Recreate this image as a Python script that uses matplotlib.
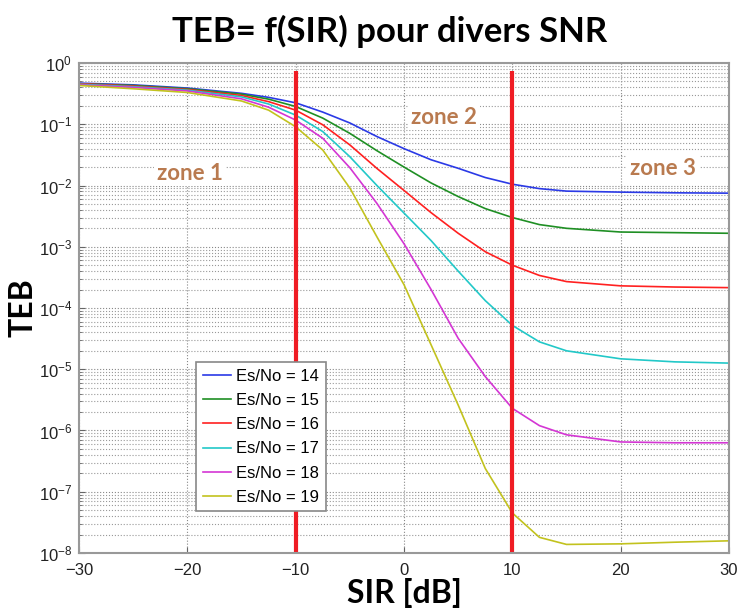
import matplotlib
matplotlib.use("Agg")
import matplotlib.pyplot as plt
from matplotlib.ticker import LogLocator, NullFormatter

plt.rcParams["font.family"] = ["Liberation Sans", "DejaVu Sans"]
plt.rcParams["mathtext.fontset"] = "custom"
plt.rcParams["mathtext.rm"] = "Liberation Sans"
plt.rcParams["mathtext.it"] = "Liberation Sans:italic"

# SIR axis (dB)
sir = [-30, -25, -20, -15, -12.5, -10, -7.5, -5, -2.5, 0, 2.5, 5, 7.5, 10,
       12.5, 15, 20, 25, 30]

# TEB per Es/No curve
teb_14 = [0.47, 0.44, 0.39, 0.32, 0.275, 0.224, 0.158, 0.105, 0.063, 0.040,
          0.0263, 0.0191, 0.0135, 0.0105, 0.0089, 0.0081, 0.0078, 0.0076, 0.0075]
teb_15 = [0.46, 0.43, 0.38, 0.31, 0.257, 0.195, 0.126, 0.071, 0.037, 0.020,
          0.011, 0.0066, 0.0042, 0.0030, 0.0023, 0.0020, 0.00174, 0.0017, 0.00166]
teb_16 = [0.46, 0.42, 0.37, 0.295, 0.234, 0.170, 0.098, 0.046, 0.019, 0.0083,
          0.0036, 0.00166, 8.3e-4, 5.0e-4, 3.4e-4, 2.7e-4, 2.3e-4, 2.2e-4, 2.15e-4]
teb_17 = [0.45, 0.41, 0.36, 0.28, 0.214, 0.141, 0.076, 0.0295, 0.0100, 0.00355,
          0.00126, 4.0e-4, 1.32e-4, 5.2e-5, 2.8e-5, 2.0e-5, 1.48e-5, 1.32e-5, 1.26e-5]
teb_18 = [0.44, 0.40, 0.35, 0.26, 0.19, 0.117, 0.059, 0.0195, 0.0051, 0.00112,
          2.0e-4, 3.2e-5, 7.6e-6, 2.3e-6, 1.2e-6, 8.5e-7, 6.5e-7, 6.3e-7, 6.3e-7]
teb_19 = [0.43, 0.38, 0.33, 0.24, 0.17, 0.091, 0.038, 0.0091, 0.00145, 2.4e-4,
          2.5e-5, 2.6e-6, 2.4e-7, 4.5e-8, 1.8e-8, 1.38e-8, 1.41e-8, 1.5e-8, 1.58e-8]

series = [teb_14, teb_15, teb_16, teb_17, teb_18, teb_19]
labels = ["Es/No = 14", "Es/No = 15", "Es/No = 16", "Es/No = 17", "Es/No = 18", "Es/No = 19"]
colors = ["#2b3ae6", "#1f8f24", "#ff2020", "#22c8c8", "#d436d4", "#c2c21e"]

x_ticks = [-30, -20, -10, 0, 10, 20, 30]
y_ticks = [1e-8, 1e-7, 1e-6, 1e-5, 1e-4, 1e-3, 1e-2, 1e-1, 1e0]

zone_bounds = [-10, 10]
zone_texts = ["zone 1", "zone 2", "zone 3"]
zone_x = [-19.8, 3.7, 23.9]
zone_y = [1.6e-2, 1.3e-1, 1.9e-2]

fig = plt.figure(figsize=(7.42, 6.13), dpi=100)
ax = fig.add_axes([0.1065, 0.0979, 0.876, 0.7993])

ax.set_yscale("log")
ax.set_xlim(-30, 30)
ax.set_ylim(1e-8, 1)

for y, lab, c in zip(series, labels, colors):
    ax.plot(sir, y, color=c, lw=1.2, label=lab)

for xb in zone_bounds:
    ax.plot([xb, xb], [1e-8, 0.74], color="#ef1c24", lw=3.0, solid_capstyle="butt")

for t, xz, yz in zip(zone_texts, zone_x, zone_y):
    ax.text(xz, yz, t, color="#b97a4f", fontsize=16, fontweight="bold",
            family=["Lato", "DejaVu Sans"], ha="center", va="center",
            bbox=dict(facecolor="white", edgecolor="none", pad=2))

ax.set_xticks(x_ticks)
ax.set_yticks(y_ticks)
ax.yaxis.set_minor_locator(LogLocator(base=10, subs=range(2, 10), numticks=12))
ax.yaxis.set_minor_formatter(NullFormatter())
ax.set_ylim(1e-8, 1)
ax.tick_params(axis="both", which="both", direction="in", labelsize=12,
               labelcolor="#222222", color="#666666")
ax.tick_params(axis="both", which="major", length=4)
ax.tick_params(axis="x", which="major", pad=7)
ax.tick_params(axis="y", which="major", pad=5)
ax.tick_params(axis="y", which="minor", length=2, labelleft=False)

ax.grid(True, which="major", axis="both", linestyle=":", color="#888888", lw=0.8)
ax.grid(True, which="minor", axis="y", linestyle=":", color="#999999", lw=0.8)

for s in ax.spines.values():
    s.set_color("#999999")
    s.set_linewidth(1.5)

leg = ax.legend(loc="lower left", bbox_to_anchor=(0.18, 0.085), fontsize=12,
                fancybox=False, framealpha=1, edgecolor="#888888",
                handlelength=1.7, handletextpad=0.3, borderpad=0.4,
                labelspacing=0.55, borderaxespad=0)
leg.get_frame().set_linewidth(1.2)

# title sits a little left of the axes centre in the reference
fig.text(390 / 742, 1 - 31 / 613, "TEB= f(SIR) pour divers SNR", fontsize=25,
         fontweight="bold", family=["Lato", "DejaVu Sans"], ha="center", va="center")
ax.set_xlabel("SIR [dB]", fontsize=23, fontweight="bold",
              family=["Lato", "DejaVu Sans"], labelpad=0)
ax.set_ylabel("TEB", fontsize=23, fontweight="bold",
              family=["Lato", "DejaVu Sans"], labelpad=1)

fig.savefig("out.png", dpi=100)
